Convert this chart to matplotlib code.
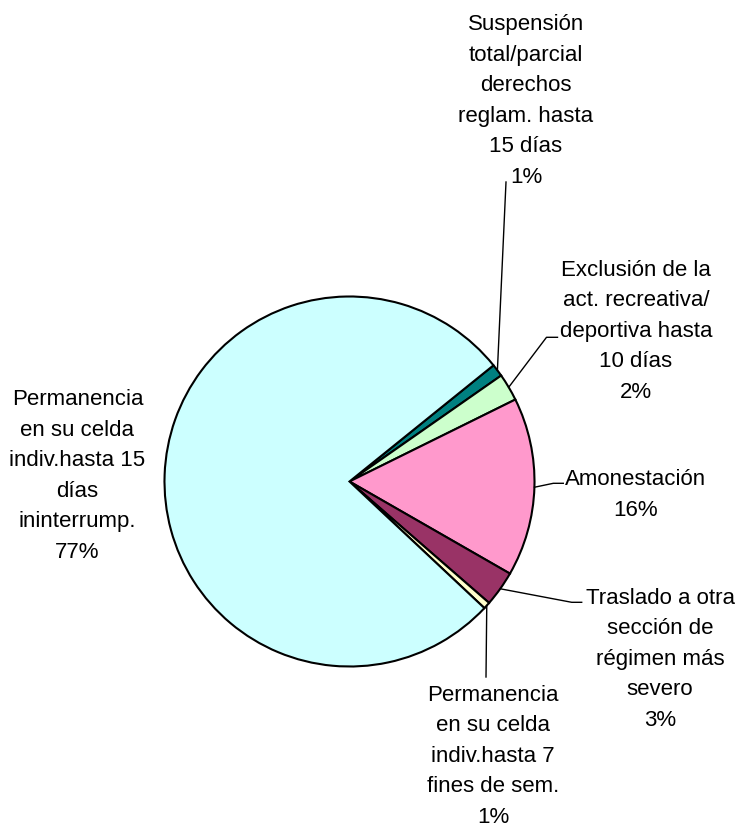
import numpy as np
import matplotlib.pyplot as plt

categories = [
    "Suspensión\ntotal/parcial\nderechos\nreglam. hasta\n15 días",
    "Exclusión de la\nact. recreativa/\ndeportiva hasta\n10 días",
    "Amonestación",
    "Traslado a otra\nsección de\nrégimen más\nsevero",
    "Permanencia\nen su celda\nindiv.hasta 7\nfines de sem.",
    "Permanencia\nen su celda\nindiv.hasta 15\ndías\nininterrump.",
]
values = [1.1, 2.4, 15.6, 3.1, 0.6, 77.2]
colors = ["#008080", "#CCFFCC", "#FF99CC", "#993366", "#FFFFCC", "#CCFFFF"]

W, H = 749, 829
fig = plt.figure(figsize=(W / 100, H / 100), dpi=100)
ax = fig.add_axes([0, 0, 1, 1])

cx, cy, r = 349.5, H - 482.5, 185
wedges, _ = ax.pie(values, colors=colors, startangle=38.9, counterclock=False,
                   center=(cx, cy), radius=r, frame=True,
                   wedgeprops=dict(edgecolor="black", linewidth=1.5))
ax.set_xlim(0, W)
ax.set_ylim(0, H)
ax.set_aspect("equal")
ax.axis("off")

font = dict(family=["Liberation Sans", "DejaVu Sans"],
            fontsize=16, linespacing=1.6, ha="center", va="baseline",
            multialignment="center")

# label anchor (center x, baseline of last line) in image pixels
label_pos = [(526, 183), (636, 398), (636, 516), (660, 726), (493, 823), (77.5, 558)]
# leader bend / end points in image pixels (None = no leader)
leaders = [
    [(506, 183)],
    [(546.5, 338.3), (557.5, 338.3)],
    [(553.3, 484.3), (563.3, 484.3)],
    [(571.7, 603.3), (581.7, 603.3)],
    [(486, 678)],
    None,
]

for w, cat, v, pos, lead in zip(wedges, categories, values, label_pos, leaders):
    ax.text(pos[0], H - pos[1], f"{cat}\n{v:.0f}%", **font)
    if lead is None:
        continue
    mid = np.deg2rad((w.theta1 + w.theta2) / 2)
    xs = [cx + r * np.cos(mid)] + [p[0] for p in lead]
    ys = [cy + r * np.sin(mid)] + [H - p[1] for p in lead]
    ax.plot(xs, ys, color="black", linewidth=1.0)

fig.savefig("out.png", dpi=100)
